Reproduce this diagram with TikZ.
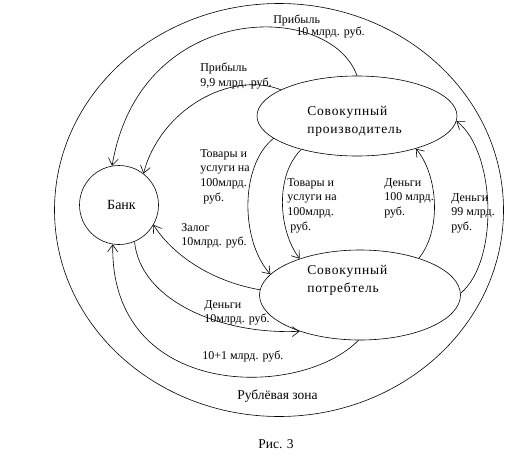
\documentclass[tikz,border=0pt]{standalone}
\usepackage{fontspec}
\setmainfont{Liberation Serif}
\usetikzlibrary{arrows.meta,shapes.geometric}
\begin{document}
\begin{tikzpicture}[x=1pt,y=-1pt,line width=0.6pt,
  lbl/.style={anchor=north west,inner sep=0pt,align=left,font=\fontsize{12}{14.7}\selectfont},
  biglbl/.style={anchor=north west,inner sep=0pt,align=left,font=\fontsize{13.5}{17.5}\selectfont\addfontfeature{LetterSpace=6}},
  oval/.style={draw,ellipse,inner sep=0pt},
  flow/.style={-{Straight Barb[length=7pt,width=10pt]}}]
\useasboundingbox (0,0) rectangle (514,455);
% shapes
\node[oval,minimum width=449pt,minimum height=413pt] (zone) at (279,210) {};
\node[draw,circle,inner sep=0pt,minimum size=79pt,font=\fontsize{14}{16}\selectfont] (bank) at (119,205) {\hspace*{5pt}\raisebox{-5pt}{Банк}};
\node[oval,minimum width=200pt,minimum height=80pt] (prod) at (357,116) {};
\node[oval,minimum width=201pt,minimum height=90pt] (cons) at (360,295) {};
% texts in ovals
\node[biglbl] (prodtext) at (307,106) {Совокупный\\производитель};
\node[biglbl] (constext) at (307,265) {Совокупный\\потребтель};
% labels
\node[lbl] (l1) at (273,15) {Прибыль\\[-2.7pt]\hspace*{23pt}10 млрд. руб.};
\node[lbl] (l2) at (200,63) {Прибыль\\9,9 млрд. руб.};
\node[lbl] (l3) at (200,149) {Товары и\\услуги на\\100млрд.\\\hspace*{3pt}руб.};
\node[lbl] (l4) at (287,178) {Товары и\\услуги на\\100млрд.\\\hspace*{3pt}руб.};
\node[lbl] (l5) at (384,178) {Деньги\\100 млрд.\\руб.};
\node[lbl] (l6) at (451,193) {Деньги\\99 млрд.\\руб.};
\node[lbl] (l7) at (181,223) {Залог\\10млрд. руб.};
\node[lbl] (l8) at (204,300) {Деньги\\10млрд. руб.};
\node[lbl] (l9) at (202,351) {10+1 млрд. руб.};
\node[anchor=north west,inner sep=0pt,font=\fontsize{13.5}{16}\selectfont] (zonetext) at (237,390) {Рублёвая зона};
\node[anchor=north west,inner sep=0pt,font=\fontsize{13.5}{16}\selectfont] (fig) at (258,439) {Рис. 3};
% flows
\draw[flow] (prod.90) .. controls (330,0) and (140,0) .. (bank.100);
\draw[flow] (prod.161) .. controls (230,70) and (160,110) .. (bank.52);
\draw[flow] (prod.195) .. controls (240,165) and (240,240) .. (cons.167);
\draw[flow] (prod.211) .. controls (275,175) and (278,230) .. (cons.149);
\draw[flow] (cons.32) .. controls (442,230) and (438,175) .. (prod.-29);
\draw[flow] (cons.1) .. controls (500,260) and (495,150) .. (prod.-3);
\draw[flow] (cons.177) .. controls (215,282) and (175,258) .. (bank.-30);
\draw[flow] (bank.-67) .. controls (140,300) and (220,335) .. (cons.211);
\draw[flow] (cons.268) .. controls (300,400) and (110,400) .. (bank.-99);
\end{tikzpicture}
\end{document}
